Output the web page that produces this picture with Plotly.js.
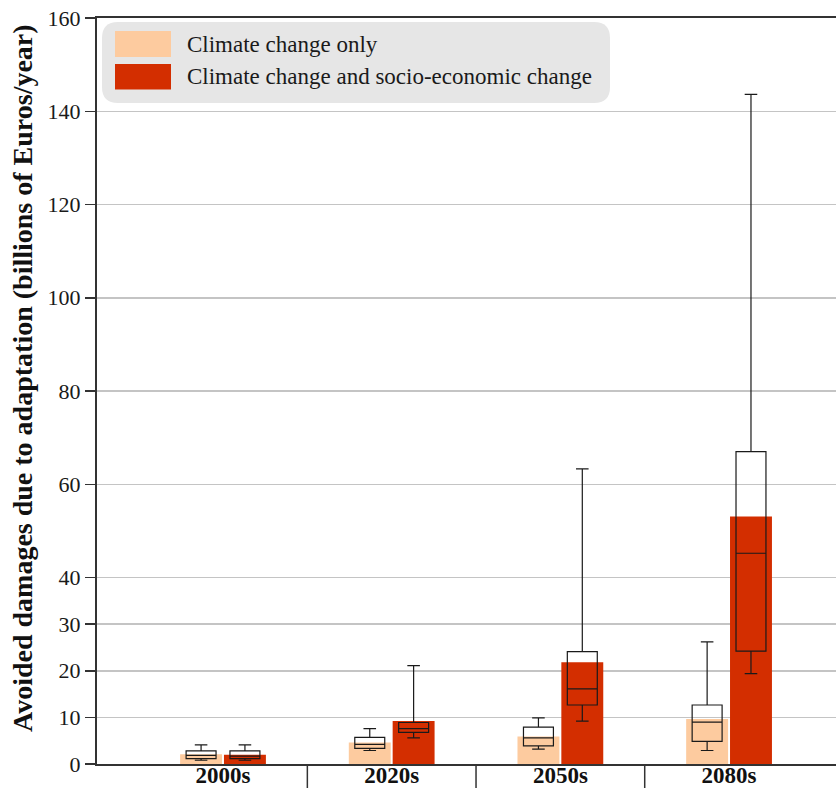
<!DOCTYPE html>
<html>
<head>
<meta charset="utf-8">
<script src="https://cdn.plot.ly/plotly-3.0.1.min.js"></script>
<style>html,body{margin:0;padding:0;background:#fff;}#chart{width:836px;height:788px;}</style>
</head>
<body>
<div id="chart"></div>
<script>
// Data
const categories = ['2000s', '2020s', '2050s', '2080s'];
// Climate change only
const ccBar = [2.1, 4.6, 5.9, 9.65];
const ccQ1 = [1.15, 3.35, 3.9, 4.85];
const ccMedian = [1.85, 4.2, 5.6, 9.0];
const ccQ3 = [2.8, 5.7, 7.9, 12.65];
const ccLow = [0.8, 2.9, 3.2, 2.9];
const ccHigh = [4.1, 7.6, 9.9, 26.2];
// Climate change and socio-economic change
const cseBar = [2.0, 9.2, 21.8, 53.1];
const cseQ1 = [1.15, 6.8, 12.65, 24.2];
const cseMedian = [1.7, 7.6, 16.1, 45.2];
const cseQ3 = [2.8, 8.9, 24.1, 67.0];
const cseLow = [0.8, 5.6, 9.2, 19.4];
const cseHigh = [4.1, 21.1, 63.3, 143.6];
const yTicks = [0, 10, 20, 30, 40, 60, 80, 100, 120, 140, 160];
const legendLabels = ['Climate change only', 'Climate change and socio-economic change'];
const yTitle = 'Avoided damages due to adaptation (billions of Euros/year)';

const lightColor = '#fdcb9f';
const darkColor = '#d32e00';
const serif = 'Liberation Serif, Times New Roman, serif';

const W = 836, H = 788;
const M = {l: 97, r: 0, t: 18, b: 24};
const pw = W - M.l - M.r, ph = H - M.t - M.b;
const px2x = p => (p - M.l) / pw;
const px2y = p => 1 - (p - M.t) / ph;

const boxStyle = {
  type: 'box', boxpoints: false, fillcolor: 'rgba(0,0,0,0)',
  line: {color: '#1a1a1a', width: 1.2}, whiskerwidth: 0.42, hoverinfo: 'skip', showlegend: false
};

const data = [
  {type: 'bar', x: categories, y: ccBar, name: legendLabels[0], marker: {color: lightColor, line: {width: 0}}, showlegend: false},
  {type: 'bar', x: categories, y: cseBar, name: legendLabels[1], marker: {color: darkColor, line: {width: 0}}, showlegend: false},
  Object.assign({}, boxStyle, {x: categories, q1: ccQ1, median: ccMedian, q3: ccQ3, lowerfence: ccLow, upperfence: ccHigh, name: 'cc'}),
  Object.assign({}, boxStyle, {x: categories, q1: cseQ1, median: cseMedian, q3: cseQ3, lowerfence: cseLow, upperfence: cseHigh, name: 'cse'})
];

// Legend (drawn as shapes + annotations)
const lx0 = px2x(102), lx1 = px2x(610), ly0 = px2y(103), ly1 = px2y(22);
const rx = 16 / pw, ry = 16 / ph;
const roundRect = `M ${lx0 + rx},${ly1} L ${lx1 - rx},${ly1} Q ${lx1},${ly1} ${lx1},${ly1 - ry} L ${lx1},${ly0 + ry} Q ${lx1},${ly0} ${lx1 - rx},${ly0} L ${lx0 + rx},${ly0} Q ${lx0},${ly0} ${lx0},${ly0 + ry} L ${lx0},${ly1 - ry} Q ${lx0},${ly1} ${lx0 + rx},${ly1} Z`;

const shapes = [
  {type: 'path', xref: 'paper', yref: 'paper', path: roundRect, fillcolor: '#e6e6e6', line: {width: 0}, layer: 'above'},
  {type: 'rect', xref: 'paper', yref: 'paper', x0: px2x(115), x1: px2x(171), y0: px2y(57), y1: px2y(31), fillcolor: lightColor, line: {width: 0}, layer: 'above'},
  {type: 'rect', xref: 'paper', yref: 'paper', x0: px2x(115), x1: px2x(171), y0: px2y(89.5), y1: px2y(64), fillcolor: darkColor, line: {width: 0}, layer: 'above'}
];
// category dividers below the axis
for (let i = 0; i < categories.length - 1; i++) {
  shapes.push({type: 'line', xref: 'x', yref: 'paper', x0: i + 0.5, x1: i + 0.5, y0: 0, y1: -0.04, line: {color: '#333', width: 1.5}});
}

const annotations = [
  {xref: 'paper', yref: 'paper', x: px2x(185), y: px2y(44), xanchor: 'left', yanchor: 'middle', text: legendLabels[0], showarrow: false, font: {family: serif, size: 23, color: '#1a1a1a'}},
  {xref: 'paper', yref: 'paper', x: px2x(185), y: px2y(77), xanchor: 'left', yanchor: 'middle', text: legendLabels[1], showarrow: false, font: {family: serif, size: 23, color: '#1a1a1a'}},
  {xref: 'paper', yref: 'paper', x: px2x(22), y: px2y(378), xanchor: 'center', yanchor: 'middle', textangle: -90, text: '<b>' + yTitle + '</b>', showarrow: false, font: {family: serif, size: 28, color: '#111'}}
];

const layout = {
  width: W, height: H,
  margin: M,
  paper_bgcolor: '#fff', plot_bgcolor: '#fff',
  barmode: 'group', bargap: 0.48, bargroupgap: 0.044,
  boxmode: 'group', boxgap: 0.48, boxgroupgap: 0.317,
  showlegend: false,
  xaxis: {
    type: 'category', range: [-0.747, 3.634],
    showline: true, mirror: true, linecolor: '#333', linewidth: 2,
    ticks: '', showgrid: false, automargin: false,
    tickfont: {family: serif, size: 23, color: '#111', weight: 'bold'},
    ticklabelstandoff: -11
  },
  yaxis: {
    range: [0, 160], tickvals: yTicks, ticktext: yTicks.map(String),
    showline: true, linecolor: '#333', linewidth: 2,
    ticks: 'outside', ticklen: 10, tickwidth: 1.5, tickcolor: '#333',
    showgrid: true, gridcolor: '#c4c4c4', gridwidth: 1.5, zeroline: false,
    tickfont: {family: serif, size: 22, color: '#1a1a1a'},
    automargin: false
  },
  shapes: shapes,
  annotations: annotations
};

Plotly.newPlot('chart', data, layout, {displayModeBar: false, staticPlot: true});
</script>
</body>
</html>
